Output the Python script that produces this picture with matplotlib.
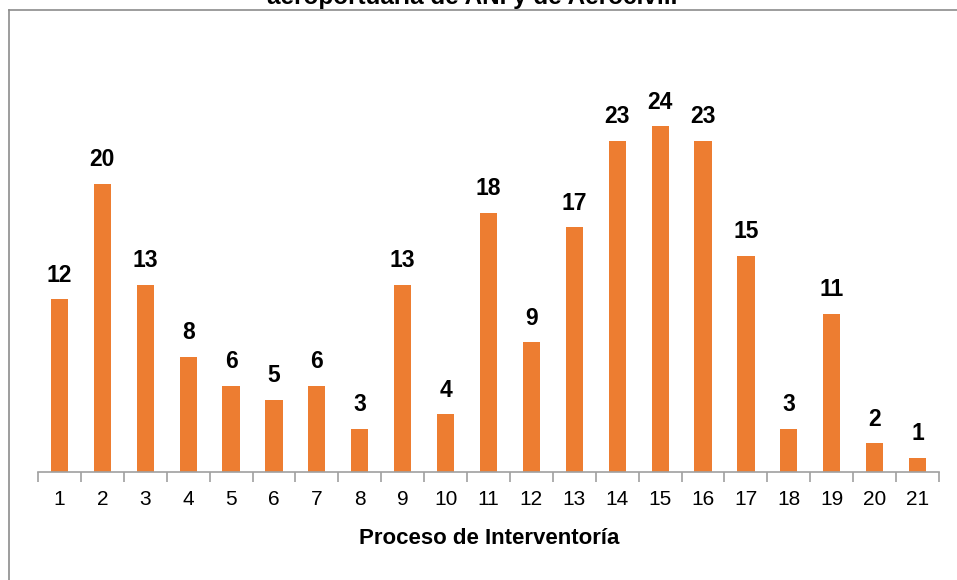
import matplotlib
matplotlib.use("Agg")
import matplotlib.pyplot as plt
from matplotlib.lines import Line2D

# datos
procesos = [str(i) for i in range(1, 22)]
valores = [12, 20, 13, 8, 6, 5, 6, 3, 13, 4, 18, 9, 17, 23, 24, 23, 15, 3, 11, 2, 1]
titulo = "aeroportuaria de ANI y de Aerocivil."
xlabel = "Proceso de Interventoría"

plt.rcParams["font.family"] = ["Liberation Sans", "DejaVu Sans"]

W, H = 957, 580
fig = plt.figure(figsize=(W / 100, H / 100), dpi=100)
ax = fig.add_axes([38 / W, 1 - 472 / H, (939 - 38) / W, (472 - 112) / H])

x = list(range(len(procesos)))
ax.bar(x, valores, width=0.40, color="#ED7D31", zorder=2)

for xi, v in zip(x, valores):
    ax.annotate(str(v), (xi, v), xytext=(0, 9), textcoords="offset points",
                ha="center", va="bottom", fontsize=16.5, fontweight="bold",
                color="black", clip_on=False)

ax.set_xlim(-0.5, len(procesos) - 0.5)
ax.set_ylim(0, 25)
ax.set_yticks([])
ax.set_xticks(x)
ax.set_xticklabels(procesos, fontsize=15)
ax.set_xticks([i - 0.5 for i in range(len(procesos) + 1)], minor=True)
ax.tick_params(axis="x", which="major", length=0, pad=13)
ax.tick_params(axis="x", which="minor", length=7, width=1.2, color="#A0A0A0", direction="out")
for s in ["top", "right", "left"]:
    ax.spines[s].set_visible(False)
ax.spines["bottom"].set_color("#A0A0A0")
ax.spines["bottom"].set_linewidth(1.2)

fig.text(489 / W, 1 - 538 / H, xlabel, ha="center", va="center",
         fontsize=16, fontweight="bold")

# titulo cortado arriba (como en el original)
fig.text(472 / W, 1 - 4 / H, titulo, ha="center", va="baseline",
         fontsize=17.5, fontweight="bold")

# marco del grafico
fig.add_artist(Line2D([8.5 / W, 8.5 / W], [1 - 9.5 / H, 0], transform=fig.transFigure,
                      color="#8C8C8C", lw=1.2))
fig.add_artist(Line2D([8.5 / W, 1], [1 - 9.5 / H, 1 - 9.5 / H], transform=fig.transFigure,
                      color="#8C8C8C", lw=1.2))

fig.savefig("out.png", dpi=100)
